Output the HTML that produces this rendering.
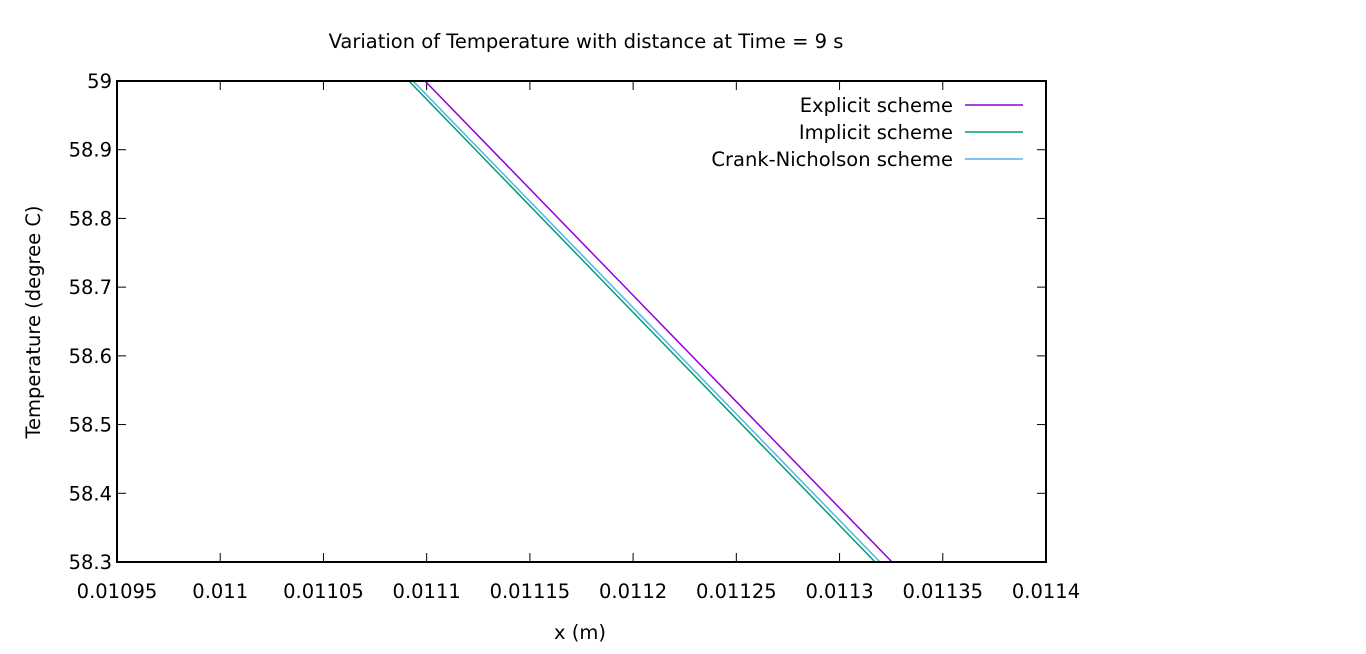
<!DOCTYPE html>
<html><head><meta charset="utf-8"><style>
body{margin:0;background:#fff;}
svg text{font-family:"DejaVu Sans","Liberation Sans",sans-serif;font-size:19.5px;fill:#000;}
</style></head><body>
<svg id="c" width="1366" height="649"></svg>
<script>
const xTicks=[0.01095,0.011,0.01105,0.0111,0.01115,0.0112,0.01125,0.0113,0.01135,0.0114];
const xTickLabels=["0.01095","0.011","0.01105","0.0111","0.01115","0.0112","0.01125","0.0113","0.01135","0.0114"];
const yTicks=[58.3,58.4,58.5,58.6,58.7,58.8,58.9,59];
const yTickLabels=["58.3","58.4","58.5","58.6","58.7","58.8","58.9","59"];
const seriesNames=["Explicit scheme","Implicit scheme","Crank-Nicholson scheme"];
const seriesColors=["#9400d3","#009e73","#56b4e9"];
const temps=[59,58.3];
const explicitX=[0.0110992,0.0113254];
const implicitX=[0.0110914,0.0113172];
const cnX=[0.0110934,0.0113196];
const L=117,R=1046,T=81,B=562;
const xs=v=>L+(v-0.01095)/(0.0114-0.01095)*(R-L);
const ys=v=>B-(v-58.3)/(59-58.3)*(B-T);
const svg=document.getElementById('c');
const NS='http://www.w3.org/2000/svg';
function mk(t,a,p){const e=document.createElementNS(NS,t);for(const k in a)e.setAttribute(k,a[k]);(p||svg).appendChild(e);return e;}
let e;
e=mk('text',{x:586,y:48,'text-anchor':'middle'});e.textContent='Variation of Temperature with distance at Time = 9 s';


const defs=mk('defs',{});const cp=mk('clipPath',{id:'cp'},defs);mk('rect',{x:L,y:T,width:R-L,height:B-T},cp);
xTicks.forEach((v,i)=>{const x=xs(v);
 e=mk('line',{x1:x,x2:x,y1:B,y2:B-9,stroke:'#000','stroke-width':1});
 
 
 mk('line',{x1:x,x2:x,y1:T,y2:T+9,stroke:'#000','stroke-width':1});
 e=mk('text',{x:x,y:598,'text-anchor':'middle'});e.textContent=xTickLabels[i];
 
 
});
yTicks.forEach((v,i)=>{const y=ys(v);
 e=mk('line',{x1:L,x2:L+9,y1:y,y2:y,stroke:'#000','stroke-width':1});
 
 
 mk('line',{x1:R,x2:R-9,y1:y,y2:y,stroke:'#000','stroke-width':1});
 e=mk('text',{x:112,y:y+7,'text-anchor':'end'});e.textContent=yTickLabels[i];
 
 
});
e=mk('text',{x:580,y:639,'text-anchor':'middle'});e.textContent='x (m)';


e=mk('text',{x:0,y:0,'text-anchor':'middle',transform:'translate(40,322) rotate(-90)'});e.textContent='Temperature (degree C)';


const data=[explicitX,implicitX,cnX];
const names=['explicit-line','implicit-line','crank-nicholson-line'];
data.forEach((arr,i)=>{
 const pts=arr.map((v,j)=>xs(v)+','+ys(temps[j])).join(' ');
 e=mk('polyline',{points:pts,fill:'none',stroke:seriesColors[i],'stroke-width':1.5,'clip-path':'url(#cp)'});
 
 
 const ly=105+i*27;
 e=mk('text',{x:953,y:ly+7,'text-anchor':'end'});e.textContent=seriesNames[i];
 
 
 e=mk('line',{x1:965,x2:1023,y1:ly,y2:ly,stroke:seriesColors[i],'stroke-width':1.5});
 
 
});
e=mk('rect',{x:L,y:T,width:R-L,height:B-T,fill:'none',stroke:'#000','stroke-width':2});


</script>
</body></html>
